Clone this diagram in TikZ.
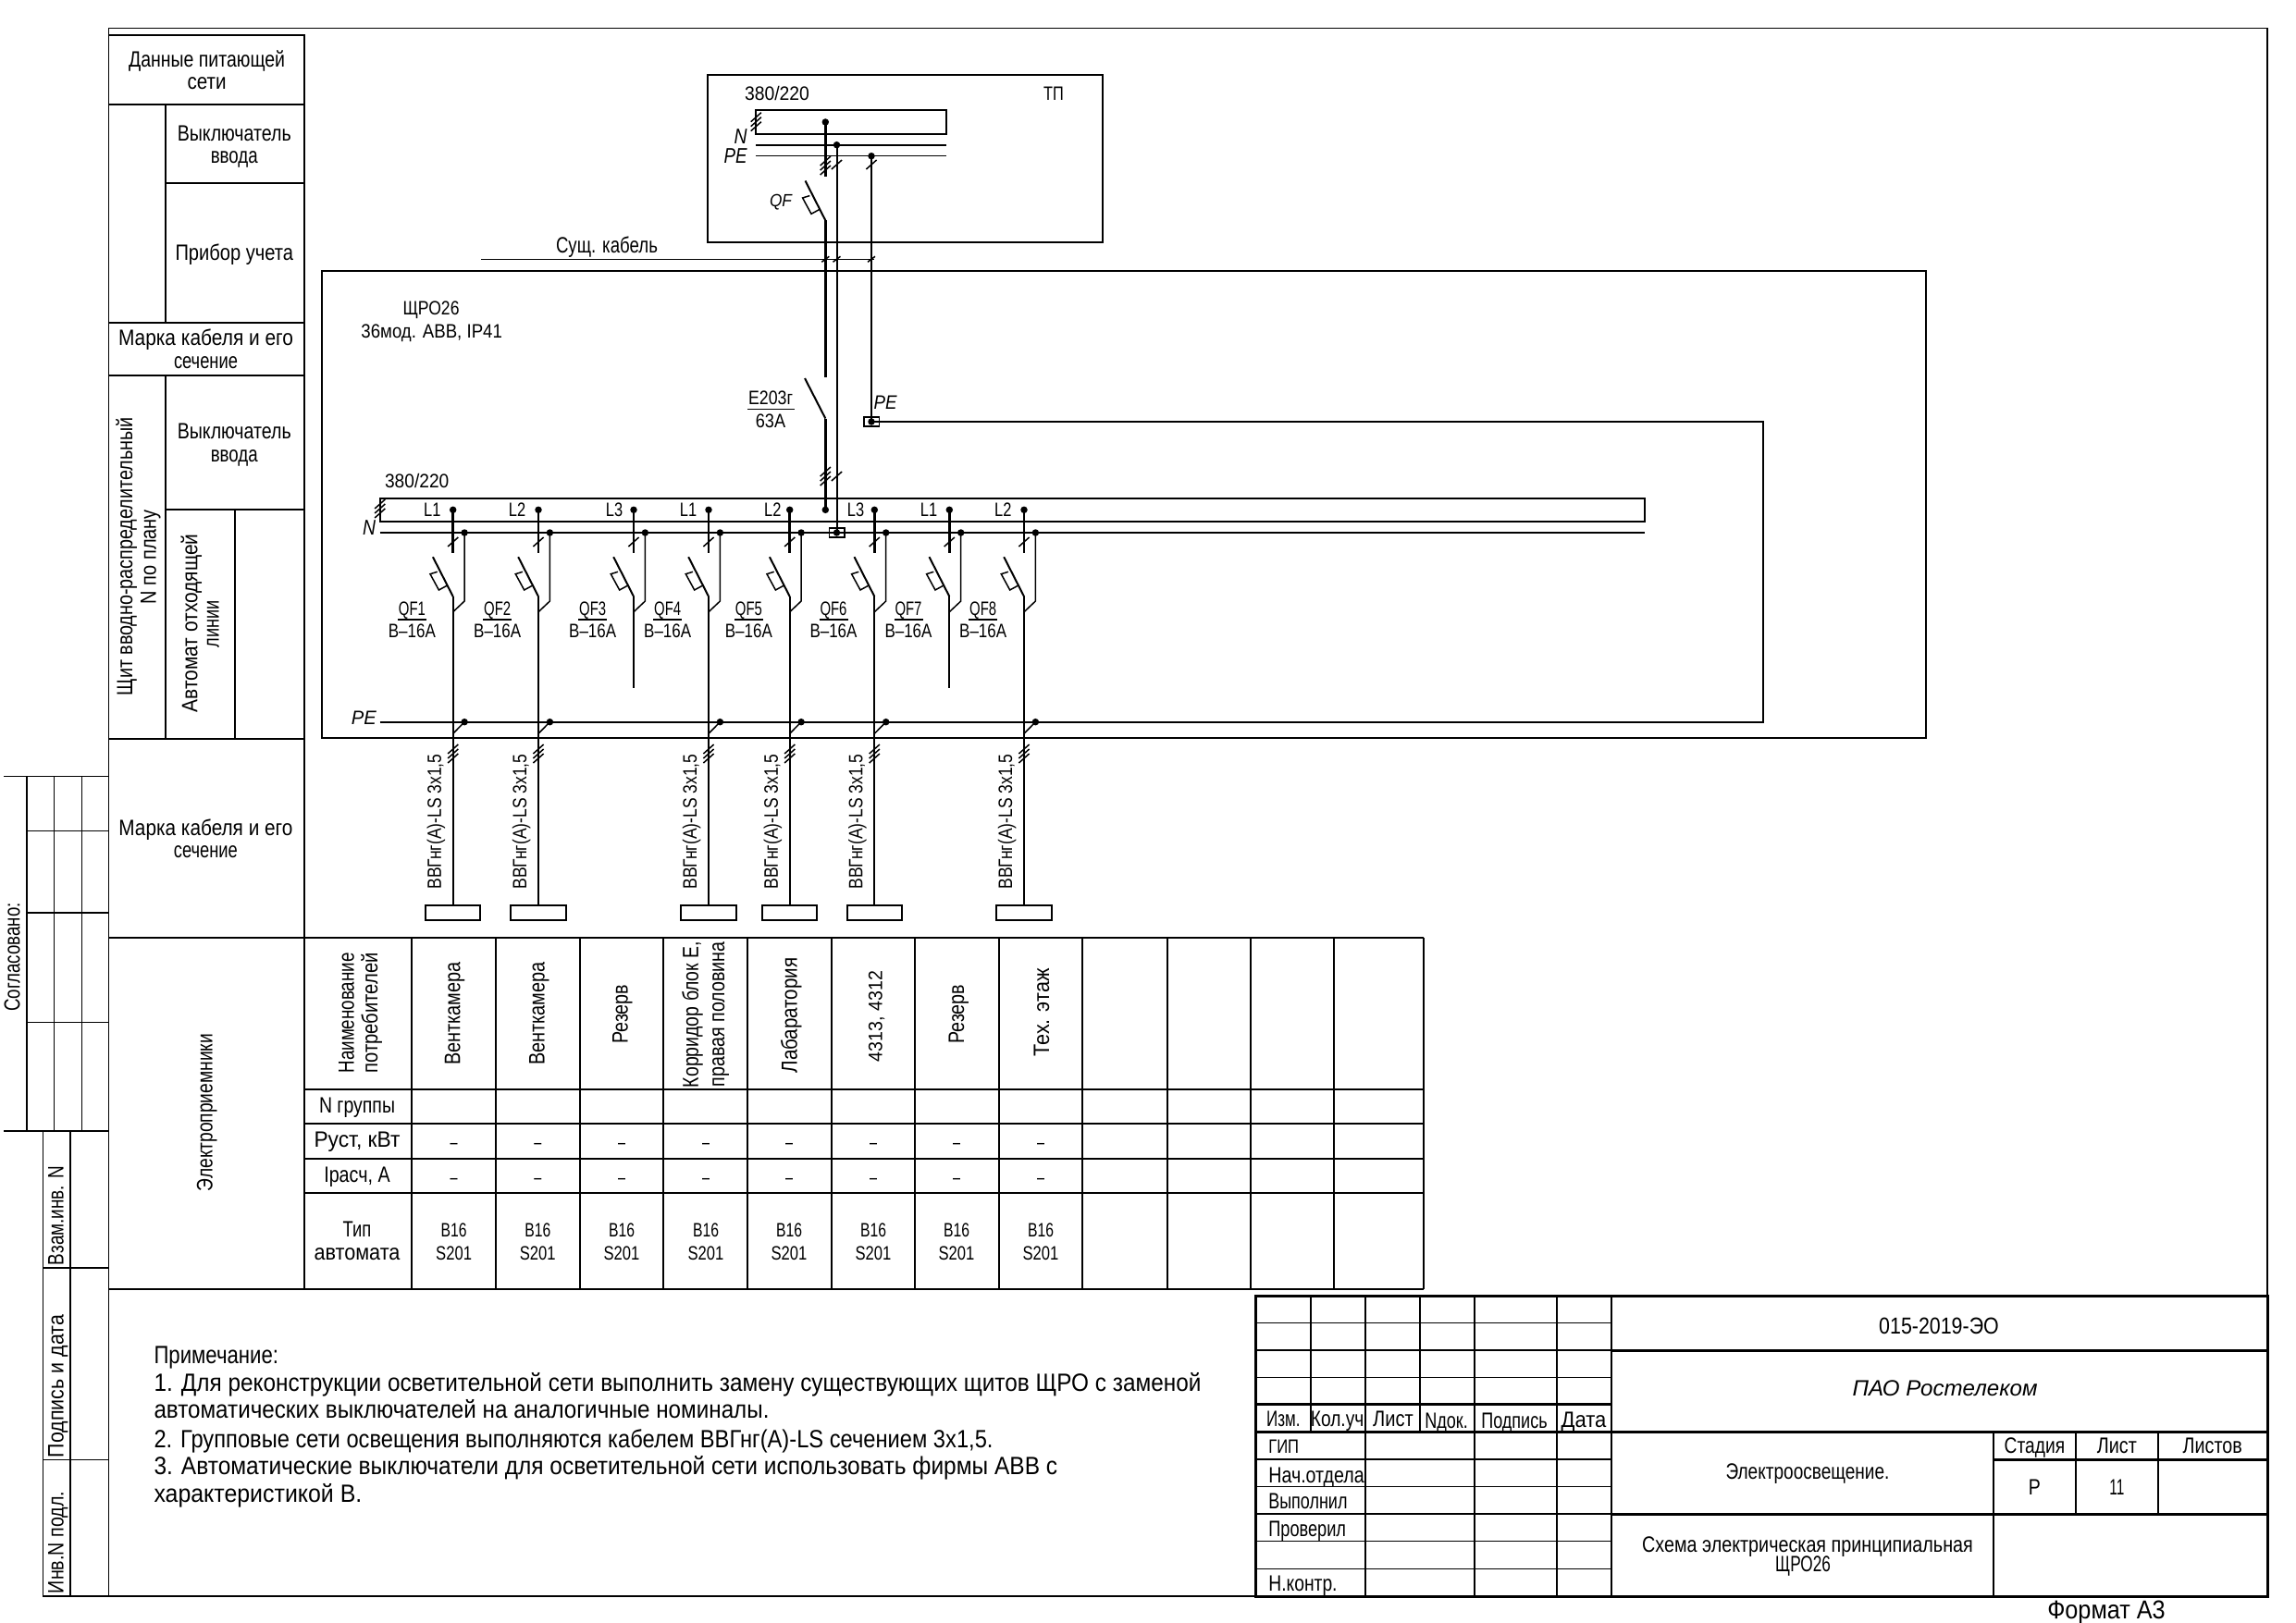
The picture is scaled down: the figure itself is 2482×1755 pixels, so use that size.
\documentclass[tikz,border=0pt]{standalone}
\usepackage{fontspec}
\usepackage{graphicx}
\setmainfont{Liberation Sans}
\newcounter{tn}
\newsavebox\tbx
\newcommand\fw[2]{\sbox\tbx{#2}\pgfmathsetmacro\fwsc{#1/\wd\tbx}\scalebox{\fwsc}[1]{\usebox\tbx}}
\tikzset{
  txt/.style={inner sep=0pt,outer sep=0pt,anchor=base,font=\fontsize{24}{26}\selectfont},
  num/.style={font=\fontsize{21}{24}\selectfont},
  big/.style={font=\fontsize{27}{30}\selectfont},
  lft/.style={anchor=base west},
  thinl/.style={line width=1.5pt},
  med/.style={line width=2pt},
  heavy/.style={line width=2.8pt},
  tb/.style={line width=3pt},
  dot/.style={circle,fill=black,inner sep=0pt,minimum size=7.5pt},
  sq/.style={draw,line width=1.5pt,inner sep=0pt,minimum width=16.5pt,minimum height=9.7pt},
  load/.style={draw,line width=2pt,inner sep=0pt,minimum width=59.4pt,minimum height=15.4pt,anchor=north}
}
\newcommand\tx[4][]{\stepcounter{tn}\node[txt,#1] (tx\thetn) at ([yshift=-7.5pt]#2) {\fw{#3}{#4}};}
\newcommand\tr[4][]{\stepcounter{tn}\node[txt,rotate=90,#1] (tx\thetn) at ([xshift=8.5pt]#2) {\fw{#3}{#4}};}
\newcommand\tick[1]{\draw[thinl] ([shift={(-5.6,5)}]#1) -- ([shift={(5.6,-5)}]#1);}
\newcommand\ttick[1]{\draw[thinl] ([shift={(-5.6,0)}]#1) -- ([shift={(5.6,-10)}]#1);
  \draw[thinl] ([shift={(-5.6,5)}]#1) -- ([shift={(5.6,-5)}]#1);
  \draw[thinl] ([shift={(-5.6,10)}]#1) -- ([shift={(5.6,0)}]#1);}
\newcommand\qfsym[1]{\draw[med] ([shift={(-21.8,-42.8)}]#1) -- (#1);
  \draw[thinl] ([shift={(-17,-26.7)}]#1) -- ([shift={(-24.7,-24.3)}]#1) -- ([shift={(-15.3,-7)}]#1) -- ([shift={(-6.7,-11.7)}]#1);}
\begin{document}
\begin{tikzpicture}[x=1pt,y=-1pt]
\useasboundingbox (0,0) rectangle (2482,1755);
\fill[white] (0,0) rectangle (2482,1755);
%% outer frame
\draw[thinl] (117.5,30.6) rectangle (2451,1726);
%% left strip
\draw[thinl] (4,839.6) -- (117.5,839.6) (4,1223) -- (117.5,1223);
\foreach \x in {29,58.7,88.3} \draw[thinl] (\x,839.6) -- (\x,1223);
\foreach \y in {898.7,987,1105.7} \draw[thinl] (29,\y) -- (117.5,\y);
\foreach \x in {46.4,76} \draw[thinl] (\x,1223) -- (\x,1726);
\draw[thinl] (46.4,1371) -- (117.5,1371) (46.4,1578.3) -- (117.5,1578.3) (46.4,1726) -- (117.5,1726);
\tr{12.8,1035}{117.5}{Согласовано:}
\tr{60,1314.6}{107}{Взам.инв. N}
\tr{60,1499}{154}{Подпись и дата}
\tr{60,1668}{110}{Инв.N подл.}
%% left column
\draw[med] (117.5,37.8) -- (329,37.8) -- (329,1393.8);
\draw[med] (117.5,113.3) -- (329,113.3) (178.5,198.5) -- (329,198.5) (117.5,348.5) -- (329,348.5)
  (117.5,405.6) -- (329,405.6) (178.5,551) -- (329,551) (117.5,798.5) -- (329,798.5);
\draw[med] (178.5,113.3) -- (178.5,348.5) (178.5,405.6) -- (178.5,798.5) (254,551) -- (254,798.5);
\draw[med] (117.5,1013.8) -- (329,1013.8) (117.5,1393.8) -- (329,1393.8);
\tx{223.6,65.5}{169}{Данные питающей}
\tx{223.6,89.5}{42}{сети}
\tx{253.3,145.5}{123}{Выключатель}
\tx{253.3,169.5}{51}{ввода}
\tx{253.3,273.5}{127.6}{Прибор учета}
\tx{222.5,366.3}{189}{Марка кабеля и его}
\tx{222.5,391.3}{69}{сечение}
\tx{253.3,467.3}{123}{Выключатель}
\tx{253.3,491.8}{51}{ввода}
\tr{134.5,602}{301}{Щит вводно-распределительный}
\tr{160,602}{102}{N по плану}
\tr{204.9,674}{193}{Автомат отходящей}
\tr{228,674.5}{51}{линии}
\tx{222.4,895.5}{188}{Марка кабеля и его}
\tx{222.4,919.9}{69}{сечение}
\tr{221,1203}{170}{Электроприемники}
%% table
\foreach \y in {1013.8,1177.6,1214.7,1252.5,1289.6,1393.8} \draw[med] (329,\y) -- (1538.7,\y);
\foreach \x in {444.8,536.4,626.7,717,807.5,899,989,1079.6,1170,1261.6,1352,1442,1538.7} \draw[med] (\x,1013.8) -- (\x,1393.8);
\tr{374,1095.4}{130}{Наименование}
\tr{399.5,1095.4}{130}{потребителей}
\tr{488.8,1096}{111.5}{Венткамера}
\tr{580,1096}{111.5}{Венткамера}
\tr{670,1096.6}{64}{Резерв}
\tr{746.4,1097}{158}{Корридор блок Е,}
\tr{774.5,1097}{156.5}{правая половина}
\tr{853,1098}{125}{Лабаратория}
\tr[num]{945,1099}{98}{4313, 4312}
\tr{1033.7,1096.6}{64}{Резерв}
\tr{1125.5,1095}{95}{Тех. этаж}
\tx{386,1196.4}{82}{N группы}
\tx{386,1232.9}{93}{Руст, кВт}
\tx{386,1270.5}{71.4}{Iрасч, А}
\tx{386,1330.3}{30.6}{Тип}
\tx{386,1355.3}{93}{автомата}
\foreach \c in {490.6,581.3,672,763,853,944,1034,1125}{
  \tx[num]{\c,1235.4}{8}{–}
  \tx[num]{\c,1273}{8}{–}
  \tx[num]{\c,1329.8}{28}{B16}
  \tx[num]{\c,1354.8}{38.8}{S201}
}
%% notes
\tx[lft,big]{166.5,1466.5}{134.6}{Примечание:}
\tx[lft,big]{166.5,1496.5}{1132}{1. Для реконструкции осветительной сети выполнить замену существующих щитов ЩРО с заменой}
\tx[lft,big]{166.5,1526}{665}{автоматических выключателей на аналогичные номиналы.}
\tx[lft,big]{166.5,1557.5}{907}{2. Групповые сети освещения выполняются кабелем ВВГнг(А)-LS сечением 3х1,5.}
\tx[lft,big]{166.5,1586.5}{976.7}{3. Автоматические выключатели для осветительной сети использовать фирмы АВВ с}
\tx[lft,big]{166.5,1616.5}{224.8}{характеристикой В.}
%% title block
\foreach \y in {1430.7,1460,1489.3} \draw[thinl] (1357.5,\y) -- (1742,\y);
\foreach \y in {1578,1607.3,1637,1666.7,1696.3} \draw[thinl] (1357.5,\y) -- (1742,\y);
\foreach \x in {1416.5,1475.5,1535.2,1594.2,1683} \draw[med] (\x,1401.7) -- (\x,1548.3);
\foreach \x in {1475.5,1594.2,1683} \draw[med] (\x,1548.3) -- (\x,1726);
\draw[tb] (1357.5,1401.7) rectangle (2451,1726);
\draw[tb] (1357.5,1518.7) -- (1742,1518.7) (1357.5,1548.3) -- (2451,1548.3);
\draw[tb] (1742,1460) -- (2451,1460) (1742,1637) -- (2451,1637) (2155,1578.5) -- (2451,1578.5);
\draw[med] (1742,1401.7) -- (1742,1726) (2155,1548.3) -- (2155,1726) (2244,1548.3) -- (2244,1637) (2333,1548.3) -- (2333,1637);
\tx[font=\fontsize{25}{28}\selectfont]{2096,1434.5}{129.6}{015-2019-ЭО}
\tx{2102.6,1502}{200}{\itshape ПАО Ростелеком}
\tx{1387.3,1535}{36.4}{Изм.}
\tx{1445.6,1535}{57.5}{Кол.уч}
\tx{1506,1535}{43.7}{Лист}
\tx{1563.6,1536.5}{46.6}{Nдок.}
\tx{1637,1536.5}{71.4}{Подпись}
\tx{1712,1535.5}{48.8}{Дата}
\tx[lft,num]{1371.3,1564}{32.8}{ГИП}
\tx[lft]{1371.3,1596}{103.4}{Нач.отдела}
\tx[lft]{1371.3,1624}{85.2}{Выполнил}
\tx[lft]{1371.3,1654}{83.8}{Проверил}
\tx[lft]{1371.3,1712.7}{74.3}{Н.контр.}
\tx{1954,1591.7}{177}{Электроосвещение.}
\tx{2199.4,1564}{65.5}{Стадия}
\tx{2288.3,1564}{43}{Лист}
\tx{2391.7,1564}{64}{Листов}
\tx{2199.4,1609}{13}{Р}
\tx{2288.3,1609}{16}{11}
\tx{1954,1671}{357.6}{Схема электрическая принципиальная}
\tx{1949,1692}{59.7}{ЩРО26}
\tx[font=\fontsize{28}{30}\selectfont]{2277,1743}{127.5}{Формат А3}
%% TP box
\draw[med] (765,81) rectangle (1192.3,262);
\tx[num]{840,100.7}{70}{380/220}
\tx[num]{1139,100.7}{21.7}{ТП}
\draw[med] (817.3,119.3) rectangle (1023.3,145);
\coordinate (nTL) at (817.3,157);
\coordinate (nTR) at (1023.3,157);
\coordinate (pTL) at (817.3,168.7);
\coordinate (pTR) at (1023.3,168.7);
\draw[thinl] (nTL) -- (nTR);
\draw[thinl] (pTL) -- (pTR);
\node[dot] (dTL) at (892.3,132) {};
\node[dot] (dTN) at (904.5,156.7) {};
\node[dot] (dTP) at (942,168.7) {};
\ttick{817.3,131.7}
\coordinate (tTL) at (892.3,190.7);
\draw[heavy] (dTL.center) -- (tTL);
\ttick{892.3,179}
\tick{904.5,178}
\tick{942,178}
\coordinate (qfT) at (892.3,238.3);
\qfsym{qfT}
\tx[font=\fontsize{19}{22}\selectfont\itshape]{844,216}{24}{QF}
\tx[font=\fontsize{23}{26}\selectfont\itshape]{800.7,147.7}{14}{N}
\tx[font=\fontsize{23}{26}\selectfont\itshape]{795,168.7}{25}{PE}
%% existing cable
\coordinate (cabL) at (520.2,280.3);
\coordinate (cabR) at (945.3,280.3);
\draw[thinl] (cabL) -- (cabR);
\tx{656,265.5}{110}{Сущ. кабель}
\foreach \x in {892.3,904.5,942} \draw[thinl] (\x-4,283.3) -- (\x+4,277.3);
%% panel
\draw[med] (348,293) rectangle (2082,798);
\tx[num]{466,333}{61}{ЩРО26}
\tx[num]{466.7,358}{152.5}{36мод. АВВ, IP41}
%% main conductors
\coordinate (swT) at (892.3,408);
\coordinate (swB) at (892.3,452.5);
\draw[heavy] (qfT) -- (swT);
\draw[med] (870,409) -- (swB);
\node[dot] (dBus) at (892.3,551.3) {};
\draw[heavy] (swB) -- (dBus.center);
\ttick{892.3,515}
\tick{904.5,515}
\tx[num]{833,430}{48}{Е203г}
\draw[thinl] (808,442.7) -- (859,442.7);
\tx[num]{833,455}{32.3}{63А}
\node[sq] (sqP) at (942,456) {};
\node[dot] at (sqP) (dSqP) {};
\node[sq] (sqN) at (904.5,576) {};
\node[dot] at (sqN) (dSqN) {};
\draw[med] (dTN.center) -- (dSqN.center);
\draw[med] (dTP.center) -- (dSqP.center);
\tx[font=\fontsize{21}{24}\selectfont\itshape]{957,435}{25}{PE}
%% lower busbars
\draw[med] (410.7,538.7) rectangle (1778,563.7);
\coordinate (nbL) at (410.7,576);
\coordinate (nbR) at (1778,576);
\coordinate (pbL) at (410.7,780.7);
\coordinate (pbR) at (1906,780.7);
\draw[heavy] (nbL) -- (nbR);
\draw[med] (pbL) -- (pbR) -- (1906,456) -- (dSqP.center);
\ttick{410.7,550}
\tx[num]{450.7,520}{69.3}{380/220}
\tx[font=\fontsize{23}{26}\selectfont\itshape]{399,571}{14}{N}
\tx[font=\fontsize{21}{24}\selectfont\itshape]{393.3,776}{27}{PE}
%% branches
\foreach \i/\x/\lab/\lx/\hl in {1/489.7/L1/467.3/1,2/582/L2/559/1,3/685/L3/664/0,4/766/L1/744/1,5/853.7/L2/835.3/1,6/945.3/L3/925/1,7/1026.3/L1/1004/0,8/1107/L2/1084.3/1}{
  \pgfmathsetmacro{\nx}{\x+12.4}
  \pgfmathsetmacro{\qx}{\x-44.3}
  \pgfmathsetmacro{\cx}{\x-21.4}
  \pgfmathsetmacro{\lnl}{\qx-15.5}
  \pgfmathsetmacro{\lnr}{\qx+15.5}
  \node[dot] (dL\i) at (\x,551.3) {};
  \node[dot] (dN\i) at (\nx,576) {};
  \tx[num]{\lx,551}{18.3}{\lab}
  \coordinate (lE\i) at (\x,598.3);
  \coordinate (bk\i) at (\x,645);
  \coordinate (nE\i) at (\x,661.7);
  \draw[heavy] (dL\i.center) -- (lE\i);
  \tick{\x,586}
  \qfsym{bk\i}
  \draw[thinl] (dN\i.center) -- (\nx,650) -- (nE\i);
  \tx[num]{\qx,657.7}{29}{QF\i}
  \draw[thinl] (\lnl,670) -- (\lnr,670);
  \tx[num]{\qx,682}{51}{B–16A}
  \ifnum\hl=1
    \node[load] (lo\i) at (\x,978.2) {};
    \node[dot] (dP\i) at (\nx,780.7) {};
    \draw[med] (bk\i) -- (lo\i.north);
    \draw[thinl] (dP\i.center) -- (\x,793.3);
    \ttick{\x,815}
    \tr[num]{\cx,888.6}{146}{ВВГнг(А)-LS 3х1,5}
  \else
    \coordinate (fe\i) at (\x,744.3);
    \draw[med] (bk\i) -- (fe\i);
  \fi
}
\end{tikzpicture}
\end{document}
